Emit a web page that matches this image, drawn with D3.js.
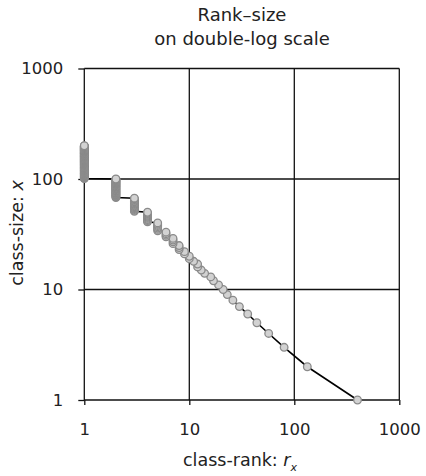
<!DOCTYPE html>
<html>
<head>
<meta charset="utf-8">
<script src="https://cdn.jsdelivr.net/npm/d3@7"></script>
<style>
  body { margin: 0; background: #fff; }
  svg text { font-family: "DejaVu Sans", sans-serif; fill: #222; }
</style>
</head>
<body>
<div id="chart"></div>
<script>
// class-rank of each group (x axis)
const ranks = [1, 2, 3, 4, 5, 6, 7, 8, 9, 10, 11, 12, 13, 14, 16, 17, 19, 21, 23, 26, 30, 36, 44, 57, 80, 133, 400];

// class-sizes sharing that rank (y axis)
const sizesByRank = [
    [200, 199, 198, 197, 196, 195, 194, 193, 192, 191,
     190, 189, 188, 187, 186, 185, 184, 183, 182, 181,
     180, 179, 178, 177, 176, 175, 174, 173, 172, 171,
     170, 169, 168, 167, 166, 165, 164, 163, 162, 161,
     160, 159, 158, 157, 156, 155, 154, 153, 152, 151,
     150, 149, 148, 147, 146, 145, 144, 143, 142, 141,
     140, 139, 138, 137, 136, 135, 134, 133, 132, 131,
     130, 129, 128, 127, 126, 125, 124, 123, 122, 121,
     120, 119, 118, 117, 116, 115, 114, 113, 112, 111,
     110, 109, 108, 107, 106, 105, 104, 103, 102, 101],
    [100, 99, 98, 97, 96, 95, 94, 93, 92, 91, 90, 89, 88, 87, 86, 85, 84,
     83, 82, 81, 80, 79, 78, 77, 76, 75, 74, 73, 72, 71, 70, 69, 68],
    [67, 66, 65, 64, 63, 62, 61, 60, 59, 58, 57, 56, 55, 54, 53, 52, 51],
    [50, 49, 48, 47, 46, 45, 44, 43, 42, 41],
    [40, 39, 38, 37, 36, 35, 34],
    [33, 32, 31, 30],
    [29, 28, 27, 26],
    [25, 24, 23],
    [22, 21],
    [20, 19],
    [18],
    [17, 16],
    [15],
    [14],
    [13],
    [12],
    [11],
    [10],
    [9],
    [8],
    [7],
    [6],
    [5],
    [4],
    [3],
    [2],
    [1]
];

const tickValues = [1, 10, 100, 1000];

const width = 426, height = 476;
const margin = { left: 84.3, right: 26.7, top: 68.5, bottom: 76 };

const svg = d3.select("#chart")
    .append("svg")
    .attr("width", width)
    .attr("height", height);

// flatten into points, in list order (largest size first)
var points = [];
ranks.forEach(function(r, i) {
    sizesByRank[i].forEach(function(s) {
        points.push({ rank: r, size: s });
    });
});

var x = d3.scaleLog()
    .domain([1, 1000])
    .range([margin.left, width - margin.right]);
var y = d3.scaleLog()
    .domain([1, 1000])
    .range([height - margin.bottom, margin.top]);

// grid lines
svg.append("g")
    .selectAll("line")
    .data(tickValues)
    .enter().append("line")
    .attr("x1", function(d) { return x(d); })
    .attr("x2", function(d) { return x(d); })
    .attr("y1", y(1000))
    .attr("y2", y(1))
    .style("stroke", "#111")
    .style("stroke-width", 1.3);

svg.append("g")
    .selectAll("line")
    .data(tickValues)
    .enter().append("line")
    .attr("x1", x(1))
    .attr("x2", x(1000))
    .attr("y1", function(d) { return y(d); })
    .attr("y2", function(d) { return y(d); })
    .style("stroke", "#111")
    .style("stroke-width", 1.3);

// axes (ticks outside the frame)
var xAxis = svg.append("g")
    .attr("transform", "translate(0," + y(1) + ")")
    .call(d3.axisBottom(x).tickValues(tickValues).tickSize(5).tickPadding(18).tickFormat(d3.format("d")));
var yAxis = svg.append("g")
    .attr("transform", "translate(" + x(1) + ",0)")
    .call(d3.axisLeft(y).tickValues(tickValues).tickSize(6).tickPadding(15).tickFormat(d3.format("d")));

[xAxis, yAxis].forEach(function(a) {
    a.select(".domain").remove();
    a.selectAll(".tick line").style("stroke", "#111").style("stroke-width", 1.3);
    a.selectAll(".tick text")
        .style("font-family", "'DejaVu Sans', sans-serif")
        .style("font-size", "16.5px")
        .style("fill", "#222");
});

// connecting line
svg.append("path")
    .datum(points)
    .attr("fill", "none")
    .attr("stroke", "#000")
    .attr("stroke-width", 1.6)
    .attr("d", d3.line()
        .x(function(d) { return x(d.rank); })
        .y(function(d) { return y(d.size); }));

// points, smallest drawn first so the largest sits on top
svg.append("g")
    .selectAll("circle")
    .data(points.slice().reverse())
    .enter().append("circle")
    .attr("cx", function(d) { return x(d.rank); })
    .attr("cy", function(d) { return y(d.size); })
    .attr("r", 3.8)
    .style("fill", "#d2d2d2")
    .style("stroke", "#8a8a8a")
    .style("stroke-width", 1.3);

// title
svg.append("text")
    .attr("x", 242)
    .attr("y", 21)
    .attr("text-anchor", "middle")
    .style("font-size", "18px")
    .text("Rank\u2013size");
svg.append("text")
    .attr("x", 242)
    .attr("y", 45)
    .attr("text-anchor", "middle")
    .style("font-size", "18px")
    .text("on double-log scale");

// x label
var xl = svg.append("text")
    .attr("x", 240)
    .attr("y", 466)
    .attr("text-anchor", "middle")
    .style("font-size", "17.5px");
xl.append("tspan").text("class-rank: ");
xl.append("tspan").style("font-style", "italic").text("r");
xl.append("tspan").style("font-style", "italic").style("font-size", "11px").attr("dy", 5).text("x");

// y label
var yl = svg.append("text")
    .attr("transform", "translate(23," + 233 + ") rotate(-90)")
    .attr("text-anchor", "middle")
    .style("font-size", "17.5px");
yl.append("tspan").text("class-size: ");
yl.append("tspan").style("font-style", "italic").text("x");
</script>
</body>
</html>
